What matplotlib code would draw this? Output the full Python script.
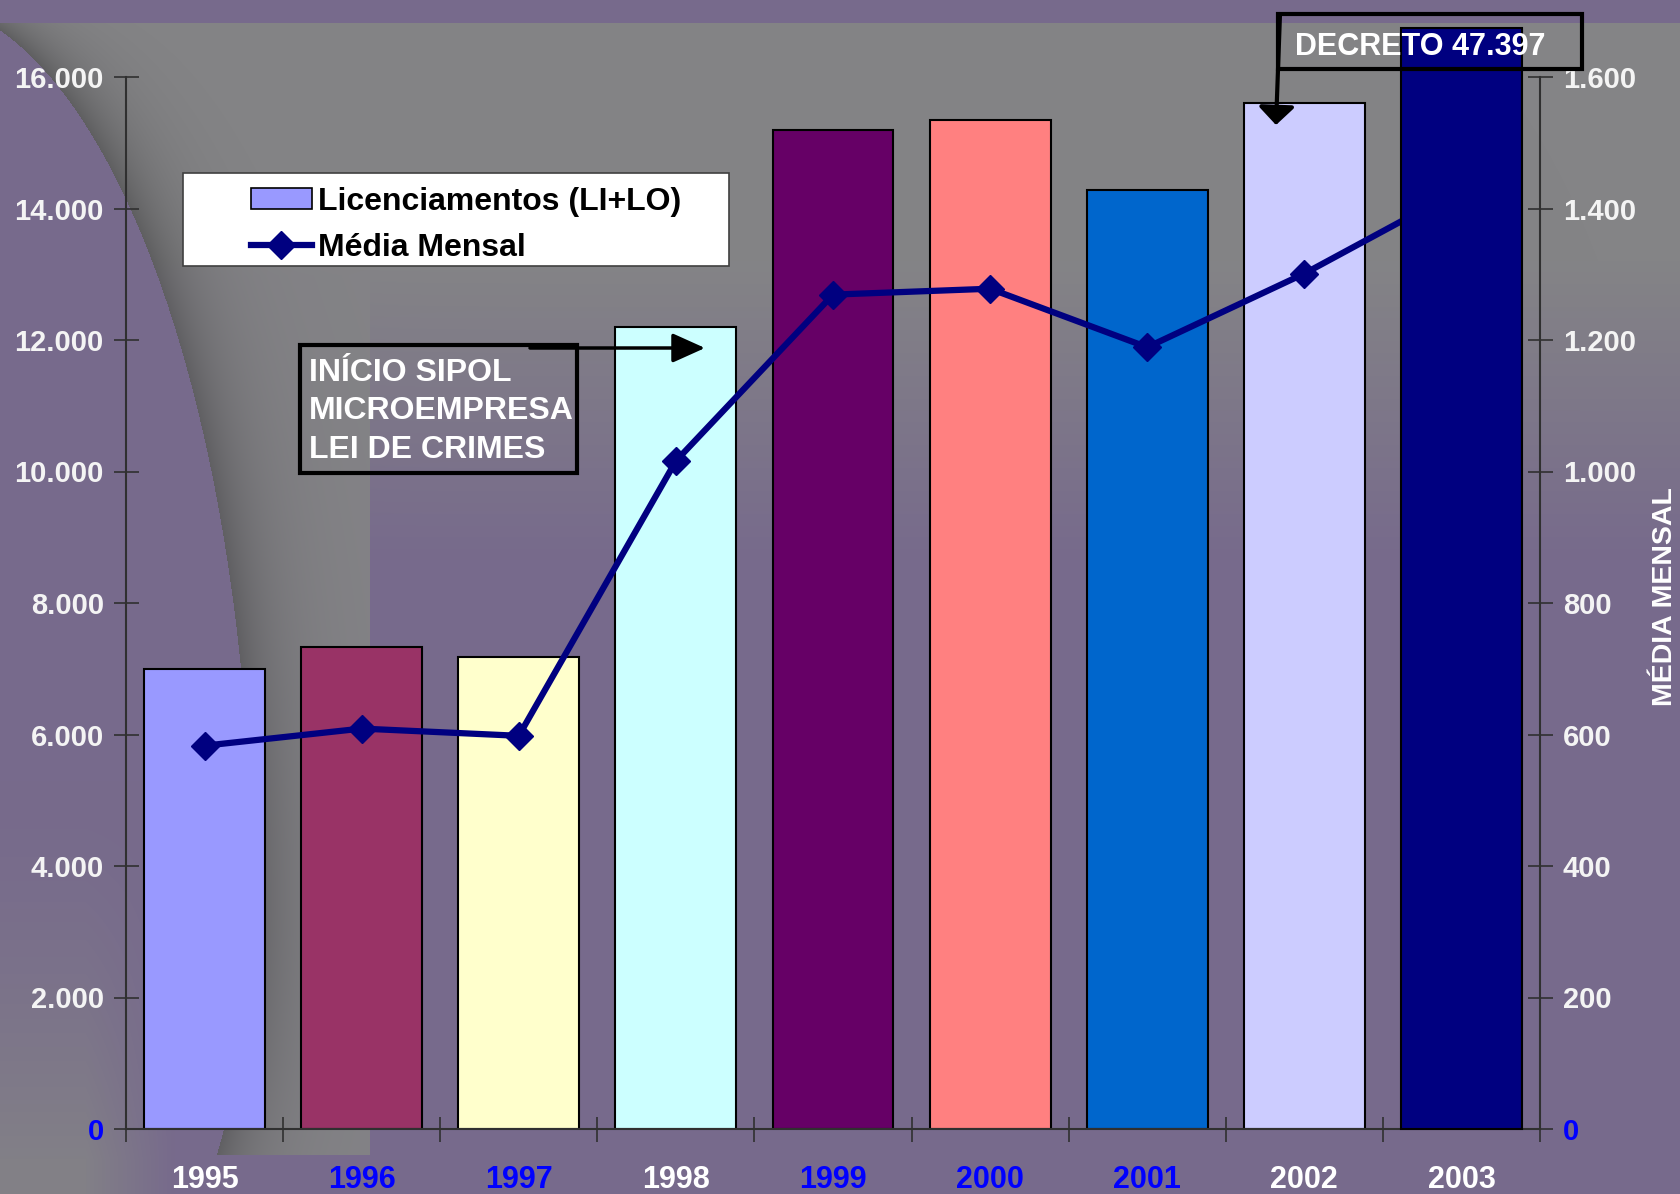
import matplotlib.pyplot as plt
import numpy as np
from matplotlib.lines import Line2D
from matplotlib.patches import Patch, Rectangle
from matplotlib.ticker import FuncFormatter

plt.rcParams["font.family"] = ["Liberation Sans", "DejaVu Sans"]
plt.rcParams["font.weight"] = "bold"

# data
anos = ["1995", "1996", "1997", "1998", "1999", "2000", "2001", "2002", "2003"]
licenciamentos = [7000, 7330, 7180, 12200, 15200, 15350, 14280, 15600, 16750]
media_mensal = [583, 609, 598, 1016, 1269, 1278, 1189, 1301, 1430]
cores_barras = ["#9999ff", "#993366", "#ffffcc", "#ccffff", "#660066",
                "#ff8080", "#0066cc", "#ccccff", "#000080"]
cores_anos = ["white", "blue", "blue", "white", "blue", "blue", "blue", "white", "white"]
ticks_esq = [0, 2000, 4000, 6000, 8000, 10000, 12000, 14000, 16000]
ticks_dir = [0, 200, 400, 600, 800, 1000, 1200, 1400, 1600]

W, H = 1681, 1194
fig = plt.figure(figsize=(W / 100, H / 100), dpi=100)

# background (slide picture): purple with grey swoosh
purple = np.array([119, 106, 140]) / 255
grey = np.array([132, 132, 134]) / 255
yy, xx = np.mgrid[0:H, 0:W].astype(float)
w = np.clip((560 - yy) / 300, 0, 1)
band = (xx < 370) & (yy < 1155)
w = np.where(band, np.maximum(w, 0.95), w)
B = np.where(yy < 900, 900.0, 570.0)
arc_x = -87 + 339 * np.sqrt(np.clip(1 - ((yy - 900) / B) ** 2, 0, 1))
dentro = xx < arc_x
# left crescent turns grey again towards the bottom-left corner
w_esq = 0.85 * np.clip((yy - 780) / 380, 0, 1) ** 1.5 * np.clip((175 - xx) / 90, 0, 1)
w = np.where(dentro, w_esq, w)
w[yy < 23] = 0
dx = xx - arc_x
shadow = np.where(dx >= 0, np.exp(-dx / 40), 0)
grey_px = grey[None, None, :] * (1 - 0.28 * shadow[..., None])
img = purple[None, None, :] * (1 - w[..., None]) + grey_px * w[..., None]

bg = fig.add_axes([0, 0, 1, 1], zorder=0)
bg.imshow(img, extent=(0, W, H, 0), aspect="auto", interpolation="bilinear")
bg.set_xlim(0, W)
bg.set_ylim(H, 0)
bg.axis("off")

# main axes
ax = fig.add_axes([126 / W, 1 - 1129 / H, (1540 - 126) / W, (1129 - 77) / H], zorder=1)
ax.patch.set_visible(False)
ax2 = ax.twinx()
ax2.set_zorder(2)
ax2.patch.set_visible(False)

x = np.arange(len(anos))
ax.bar(x[:-1], licenciamentos[:-1], width=0.77, color=cores_barras[:-1],
       edgecolor="black", linewidth=1.5, zorder=2)
ax.set_xlim(-0.5, len(anos) - 0.5)
ax.set_ylim(0, 16000)
ax2.set_ylim(0, 1600)

ax2.plot(x, media_mensal, color="#000080", linewidth=4.5, marker="D", markersize=14, zorder=2)
# last bar hides the line end, as in the original slide
escala = ax2.get_ylim()[1] / ax.get_ylim()[1]
ax2.bar(x[-1], licenciamentos[-1] * escala, width=0.77, color=cores_barras[-1],
        edgecolor="black", linewidth=1.5, clip_on=False, zorder=3)

fmt = FuncFormatter(lambda v, p: f"{int(v):,}".replace(",", "."))
ax.set_yticks(ticks_esq)
ax.yaxis.set_major_formatter(fmt)
ax2.set_yticks(ticks_dir)
ax2.yaxis.set_major_formatter(fmt)

ax.tick_params(axis="y", direction="inout", length=18, width=1.2, color="#303030",
               labelsize=21, labelcolor="#f4f4f4", pad=7)
ax2.tick_params(axis="y", direction="inout", length=18, width=1.2, color="#303030",
                labelsize=21, labelcolor="#f4f4f4", pad=7.5)
ax.get_yticklabels()[0].set_color("blue")
ax2.get_yticklabels()[0].set_color("blue")

ax.set_xticks(x, anos)
ax.set_xticks(np.arange(-0.5, len(anos), 1), minor=True)
ax.tick_params(axis="x", which="major", length=0, labelsize=22, pad=26)
ax.tick_params(axis="x", which="minor", direction="inout", length=18, width=1.2, color="#303030")
for lbl, c in zip(ax.get_xticklabels(), cores_anos):
    lbl.set_color(c)

for s in ["top", "right"]:
    ax.spines[s].set_visible(False)
for s in ["top", "left", "bottom"]:
    ax2.spines[s].set_visible(False)
ax.spines["left"].set_color("#303030")
ax.spines["bottom"].set_color("#303030")
ax2.spines["right"].set_color("#303030")
for s in [ax.spines["left"], ax.spines["bottom"], ax2.spines["right"]]:
    s.set_linewidth(1.5)

fig.text(1665 / W, 1 - 597 / H, "MÉDIA MENSAL", rotation=90, ha="center", va="center",
         color="white", fontsize=20.5)

# overlay: legend and annotations
ov = fig.add_axes([0, 0, 1, 1], zorder=5)
ov.set_xlim(0, W)
ov.set_ylim(H, 0)
ov.axis("off")

ov.add_patch(Rectangle((183, 173), 546, 93, facecolor="white", edgecolor="#404040", linewidth=1.2))
handles = [Patch(facecolor=cores_barras[0], edgecolor="black", linewidth=1.2),
           Line2D([], [], color="#000080", linewidth=4.5, marker="D", markersize=14)]
ov.legend(handles, ["Licenciamentos (LI+LO)", "Média Mensal"], loc="upper left",
          bbox_to_anchor=(251, 187), bbox_transform=ov.transData, frameon=False,
          borderpad=0, borderaxespad=0, handlelength=1.9, handleheight=0.65,
          handletextpad=0.2, labelspacing=0.5, fontsize=23)

ov.add_patch(Rectangle((300, 345), 277, 128, fill=False, edgecolor="black", linewidth=3))
ov.text(309, 358, "INÍCIO SIPOL\nMICROEMPRESA\nLEI DE CRIMES", ha="left", va="top",
        color="white", fontsize=23, linespacing=1.36)
ov.annotate("", xy=(705, 348), xytext=(530, 348),
            arrowprops=dict(arrowstyle="-|>,head_length=1.0,head_width=0.45",
                            mutation_scale=20, color="black", lw=2.5, shrinkA=0, shrinkB=0))

ov.add_patch(Rectangle((1278, 14), 304, 55, fill=False, edgecolor="black", linewidth=3))
ov.text(1295, 47, "DECRETO 47.397", ha="left", va="center", color="white", fontsize=22)
ov.annotate("", xy=(1276, 125), xytext=(1280, 14),
            arrowprops=dict(arrowstyle="-|>,head_length=0.55,head_width=0.55",
                            mutation_scale=20, color="black", lw=3, shrinkA=0, shrinkB=0))

fig.savefig("out.png", dpi=100)
